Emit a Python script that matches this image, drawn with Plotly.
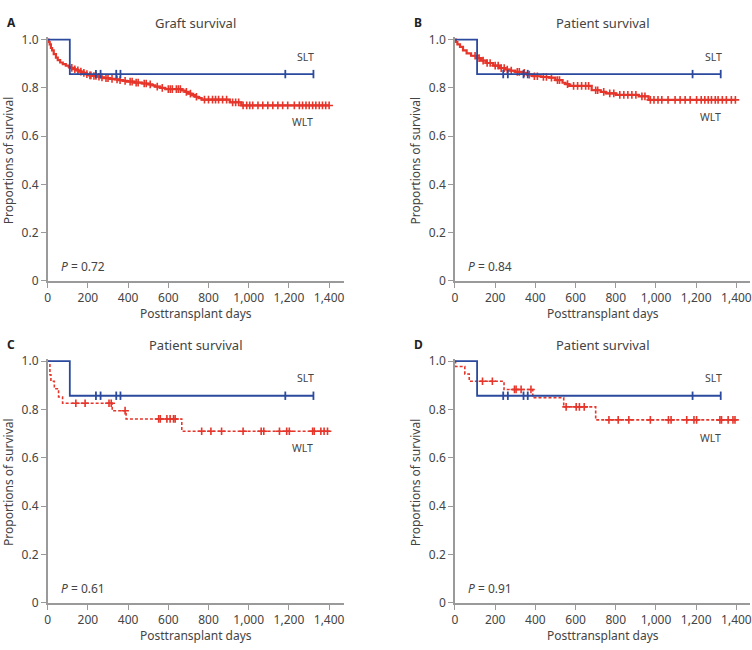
import plotly.graph_objects as go

W, H = 752, 650

# ---------------- data ----------------
x_ticks = [0, 200, 400, 600, 800, 1000, 1200, 1400]
x_tick_labels = ["0", "200", "400", "600", "800", "1,000", "1,200", "1,400"]
y_ticks = [0, 0.2, 0.4, 0.6, 0.8, 1.0]
y_tick_labels = ["0", "0.2", "0.4", "0.6", "0.8", "1.0"]

panel_titles = ["Graft survival", "Patient survival", "Patient survival", "Patient survival"]
panel_letters = ["A", "B", "C", "D"]
p_values = ["0.72", "0.84", "0.61", "0.91"]

# SLT (same in all panels)
slt_event_times = [110]
slt_event_surv = [0.857]
slt_censor_times = [240, 263, 341, 362, 1182, 1322]
slt_end = 1322

# Panel A WLT (graft survival)
a_wlt_event_times = [5, 10, 16, 22, 30, 41, 50, 62, 75, 90, 105, 115, 130, 145, 156, 175, 190, 206,
                     225, 247, 265, 280, 310, 335, 354, 375, 395, 430, 469, 502, 520, 535, 560, 585,
                     667, 685, 700, 715, 733, 750, 766, 906, 963]
a_wlt_event_surv = [0.99, 0.98, 0.965, 0.955, 0.94, 0.925, 0.915, 0.905, 0.898, 0.892, 0.887, 0.883,
                    0.877, 0.872, 0.867, 0.862, 0.857, 0.852, 0.849, 0.846, 0.843, 0.840, 0.837, 0.835,
                    0.832, 0.829, 0.826, 0.822, 0.818, 0.814, 0.810, 0.805, 0.800, 0.795, 0.789, 0.783,
                    0.776, 0.770, 0.763, 0.757, 0.751, 0.740, 0.727]
a_wlt_censor_times = [120, 135, 150, 165, 180, 195, 210, 215, 230, 240, 255, 270, 290, 300, 320, 345,
                      360, 385, 410, 420, 440, 450, 480, 490, 510, 545, 570, 600, 610, 620, 640, 650,
                      660, 690, 710, 740, 780, 800, 820, 835, 850, 870, 890, 920, 935, 950, 972, 990,
                      1005, 1020, 1046, 1070, 1095, 1120, 1145, 1169, 1194, 1227, 1252, 1268, 1285,
                      1301, 1318, 1334, 1351, 1367, 1383, 1400]
a_wlt_end = 1400

# Panel B WLT (patient survival)
b_wlt_event_times = [5, 12, 25, 40, 58, 80, 107, 130, 156, 190, 222, 250, 272, 300, 337, 360, 387,
                     430, 469, 500, 535, 550, 568, 680, 725, 750, 800, 914, 963]
b_wlt_event_surv = [0.99, 0.98, 0.97, 0.955, 0.943, 0.933, 0.923, 0.913, 0.903, 0.892, 0.882, 0.876,
                    0.871, 0.866, 0.862, 0.855, 0.848, 0.845, 0.842, 0.832, 0.821, 0.815, 0.808, 0.790,
                    0.783, 0.777, 0.771, 0.765, 0.750]
b_wlt_censor_times = [100, 120, 140, 160, 175, 200, 215, 230, 245, 260, 280, 310, 320, 345, 370, 395,
                      410, 440, 455, 480, 510, 520, 560, 590, 610, 630, 650, 665, 700, 710, 740, 770,
                      790, 820, 840, 860, 880, 900, 930, 945, 972, 990, 1010, 1029, 1060, 1095, 1120,
                      1145, 1170, 1202, 1225, 1243, 1260, 1276, 1295, 1309, 1330, 1350, 1375, 1395]
b_wlt_end = 1395

# Panel C WLT
c_wlt_event_times = [11, 16, 33, 54, 74, 321, 390, 667]
c_wlt_event_surv = [0.944, 0.917, 0.886, 0.852, 0.826, 0.795, 0.761, 0.710]
c_wlt_censor_times = [140, 186, 305, 316, 385, 552, 560, 593, 609, 626, 634, 766, 812, 865, 972,
                      1062, 1075, 1153, 1189, 1202, 1318, 1326, 1359, 1375, 1392]
c_wlt_end = 1405

# Panel D WLT
d_wlt_event_times = [3, 49, 71, 244, 387, 541, 700]
d_wlt_event_surv = [0.978, 0.947, 0.917, 0.883, 0.849, 0.811, 0.757]
d_wlt_censor_times = [137, 186, 296, 304, 329, 378, 553, 603, 619, 643, 766, 812, 865, 972, 1062,
                      1075, 1153, 1189, 1202, 1318, 1326, 1359, 1383, 1393]
d_wlt_end = 1393

wlt_sets = [
    (a_wlt_event_times, a_wlt_event_surv, a_wlt_censor_times, a_wlt_end, "solid"),
    (b_wlt_event_times, b_wlt_event_surv, b_wlt_censor_times, b_wlt_end, "solid"),
    (c_wlt_event_times, c_wlt_event_surv, c_wlt_censor_times, c_wlt_end, "3px,2px"),
    (d_wlt_event_times, d_wlt_event_surv, d_wlt_censor_times, d_wlt_end, "3px,2px"),
]

# ---------------- layout geometry (pixels) ----------------
BLUE = "#2b4a9e"
RED = "#e6352a"
GRAY = "#444444"
AX = "#9a9a9a"
FONT = "Noto Sans"

# panel geometry: (x0 px of axis, x end px, y px of 1.0, y px of 0)
panels = [
    (45, 343, 34.3, 281.0),
    (455, 752, 34.3, 281.0),
    (45, 343, 363.0, 610.0),
    (455, 752, 363.0, 610.0),
]
PX_PER_DAY = (328.3 - 45) / 1400.0
Y_TOP = 1.01


def step_xy(times, surv, end):
    xs = [0] + list(times) + [end]
    ys = [1.0] + list(surv) + [surv[-1]]
    return xs, ys


def surv_at(times, surv, t):
    v = 1.0
    for tt, s in zip(times, surv):
        if tt <= t:
            v = s
    return v


fig = go.Figure()
layout = dict(
    width=W, height=H, margin=dict(l=0, r=0, t=0, b=0),
    paper_bgcolor="white", plot_bgcolor="white", showlegend=False,
    font=dict(family=FONT, color=GRAY, size=11),
)
annotations = []


def px(x):
    return x / W


def py(y):
    return 1 - y / H


for i, (x0, x1, y1, y0) in enumerate(panels):
    k = "" if i == 0 else str(i + 1)
    xa, ya = "x" + k, "y" + k
    rng_x = (x1 - x0) / PX_PER_DAY
    ppu = (y0 - y1) / 1.0
    ytop_px = y0 - ppu * Y_TOP
    layout["xaxis" + k] = dict(
        domain=[px(x0), px(x1)], range=[0, rng_x], anchor=ya,
        tickvals=x_ticks, ticktext=x_tick_labels, ticks="outside", ticklen=5,
        tickcolor=AX, showline=True, linecolor=AX, linewidth=1.5, showgrid=False,
        zeroline=False, tickfont=dict(size=12, color=GRAY, family=FONT), fixedrange=True,
        ticklabeloverflow="allow",
    )
    layout["yaxis" + k] = dict(
        domain=[py(y0), py(ytop_px)], range=[0, Y_TOP], anchor=xa,
        tickvals=y_ticks, ticktext=y_tick_labels, ticks="outside", ticklen=5,
        tickcolor=AX, showline=True, linecolor=AX, linewidth=1.5, showgrid=False,
        zeroline=False, tickfont=dict(size=12, color=GRAY, family=FONT), fixedrange=True,
    )

    # WLT
    et, es, ct, end, dash = wlt_sets[i]
    xs, ys = step_xy(et, es, end)
    fig.add_trace(go.Scatter(x=xs, y=ys, mode="lines",
                             line=dict(color=RED, width=2.2 if dash == "solid" else 1.6, dash=dash, shape="hv"),
                             xaxis=xa, yaxis=ya, hoverinfo="skip"))
    fig.add_trace(go.Scatter(x=ct, y=[surv_at(et, es, t) for t in ct], mode="markers",
                             marker=dict(symbol="cross-thin", size=5.5, line=dict(color=RED, width=1.6)),
                             xaxis=xa, yaxis=ya, hoverinfo="skip", cliponaxis=False))
    # SLT
    xs, ys = step_xy(slt_event_times, slt_event_surv, slt_end)
    fig.add_trace(go.Scatter(x=xs, y=ys, mode="lines", line=dict(color=BLUE, width=1.8, shape="hv"),
                             xaxis=xa, yaxis=ya, hoverinfo="skip"))
    fig.add_trace(go.Scatter(x=slt_censor_times,
                             y=[surv_at(slt_event_times, slt_event_surv, t) for t in slt_censor_times],
                             mode="markers", marker=dict(symbol="line-ns", size=6, line=dict(color=BLUE, width=1.8)),
                             xaxis=xa, yaxis=ya, hoverinfo="skip", cliponaxis=False))

    # annotations
    cx = x0 + 149
    annotations.append(dict(x=px(cx), y=py(y1 - 17), xref="paper", yref="paper", text=panel_titles[i],
                            showarrow=False, font=dict(size=13, color=GRAY, family=FONT),
                            xanchor="center", yanchor="middle"))
    annotations.append(dict(x=px(x0 - 43), y=py(y1 - 17), xref="paper", yref="paper",
                            text="<b>" + panel_letters[i] + "</b>",
                            showarrow=False, font=dict(size=12, color="#222222", family=FONT),
                            xanchor="left", yanchor="middle"))
    annotations.append(dict(x=px(x0 - 40), y=py((y0 + y1) / 2), xref="paper", yref="paper",
                            text="Proportions of survival",
                            textangle=-90, showarrow=False, font=dict(size=12, color=GRAY, family=FONT),
                            xanchor="center", yanchor="middle"))
    annotations.append(dict(x=px(cx), y=py(y0 + 33), xref="paper", yref="paper", text="Posttransplant days",
                            showarrow=False, font=dict(size=12, color=GRAY, family=FONT),
                            xanchor="center", yanchor="middle"))
    annotations.append(dict(x=px(x0 + 11), y=py(y0 - 15), xref="paper", yref="paper",
                            text="<i>P</i> = " + p_values[i],
                            showarrow=False, font=dict(size=12, color=GRAY, family=FONT),
                            xanchor="left", yanchor="middle"))
    annotations.append(dict(x=px(x0 + 260), y=py(y1 + 17.5), xref="paper", yref="paper", text="SLT",
                            showarrow=False, font=dict(size=10.5, color=GRAY, family=FONT),
                            xanchor="center", yanchor="middle"))
    wlt_y = [118.3, 113.3, 451.7, 441.7][i]
    annotations.append(dict(x=px(x0 + 257), y=py(wlt_y), xref="paper", yref="paper", text="WLT",
                            showarrow=False, font=dict(size=10.5, color=GRAY, family=FONT),
                            xanchor="center", yanchor="middle"))

layout["annotations"] = annotations
fig.update_layout(**layout)
fig.write_html("out.html")
